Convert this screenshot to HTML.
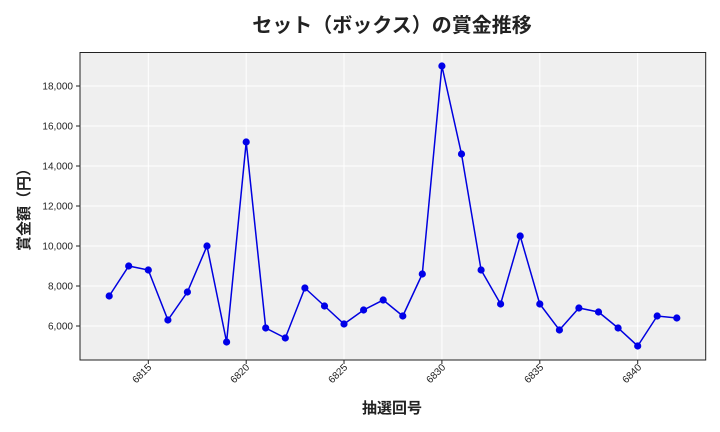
<!DOCTYPE html>
<html><head><meta charset="utf-8"><style>
body{margin:0;background:#fff;}
svg{display:block;font-family:"Liberation Sans","Noto Sans CJK JP",sans-serif;}
</style></head><body>
<svg width="720" height="432" viewBox="0 0 720 432" xmlns="http://www.w3.org/2000/svg">
<rect x="80" y="52.5" width="625.7" height="307.5" fill="#efefef"/>
<g stroke="#fff" stroke-width="1">
<line x1="80" x2="705.7" y1="86" y2="86"/><line x1="80" x2="705.7" y1="126" y2="126"/>
<line x1="80" x2="705.7" y1="166" y2="166"/><line x1="80" x2="705.7" y1="206" y2="206"/>
<line x1="80" x2="705.7" y1="246" y2="246"/><line x1="80" x2="705.7" y1="286" y2="286"/>
<line x1="80" x2="705.7" y1="326" y2="326"/>
<line y1="52.5" y2="360" x1="148.3" x2="148.3"/><line y1="52.5" y2="360" x1="246.2" x2="246.2"/>
<line y1="52.5" y2="360" x1="344" x2="344"/><line y1="52.5" y2="360" x1="441.9" x2="441.9"/>
<line y1="52.5" y2="360" x1="539.8" x2="539.8"/><line y1="52.5" y2="360" x1="637.7" x2="637.7"/>
</g>
<rect x="80" y="52.5" width="625.7" height="307.5" fill="none" stroke="#222" stroke-width="1"/>
<g stroke="#222"><line x1="76" x2="80" y1="86" y2="86"/><line x1="76" x2="80" y1="126" y2="126"/><line x1="76" x2="80" y1="166" y2="166"/><line x1="76" x2="80" y1="206" y2="206"/><line x1="76" x2="80" y1="246" y2="246"/><line x1="76" x2="80" y1="286" y2="286"/><line x1="76" x2="80" y1="326" y2="326"/>
<line y1="360" y2="364" x1="148.3" x2="148.3"/><line y1="360" y2="364" x1="246.2" x2="246.2"/><line y1="360" y2="364" x1="344" x2="344"/><line y1="360" y2="364" x1="441.9" x2="441.9"/><line y1="360" y2="364" x1="539.8" x2="539.8"/><line y1="360" y2="364" x1="637.7" x2="637.7"/></g>
<g font-size="10" fill="#222" text-anchor="end">
<text x="73" y="89.5">18,000</text><text x="73" y="129.5">16,000</text><text x="73" y="169.5">14,000</text><text x="73" y="209.5">12,000</text><text x="73" y="249.5">10,000</text><text x="73" y="289.5">8,000</text><text x="73" y="329.5">6,000</text>
<text transform="translate(152,368) rotate(-45)">6815</text>
<text transform="translate(250,368) rotate(-45)">6820</text>
<text transform="translate(348,368) rotate(-45)">6825</text>
<text transform="translate(446,368) rotate(-45)">6830</text>
<text transform="translate(544,368) rotate(-45)">6835</text>
<text transform="translate(642,368) rotate(-45)">6840</text>
</g>
<polyline fill="none" stroke="#0000e0" stroke-width="1.5" points="109.2,296 128.7,266 148.3,270 167.9,320 187.4,292 207,246 226.6,342 246.2,142 265.7,328 285.3,338 304.9,288 324.5,306 344,324 363.6,310 383.2,300 402.8,316 422.3,274 441.9,66 461.5,154 481.1,270 500.6,304 520.2,236 539.8,304 559.4,330 578.9,308 598.5,312 618.1,328 637.7,346 657.2,316 676.8,318"/>
<g fill="#0000e8">
<circle cx="109.2" cy="296" r="3.6"/><circle cx="128.7" cy="266" r="3.6"/><circle cx="148.3" cy="270" r="3.6"/><circle cx="167.9" cy="320" r="3.6"/><circle cx="187.4" cy="292" r="3.6"/><circle cx="207" cy="246" r="3.6"/><circle cx="226.6" cy="342" r="3.6"/><circle cx="246.2" cy="142" r="3.6"/><circle cx="265.7" cy="328" r="3.6"/><circle cx="285.3" cy="338" r="3.6"/><circle cx="304.9" cy="288" r="3.6"/><circle cx="324.5" cy="306" r="3.6"/><circle cx="344" cy="324" r="3.6"/><circle cx="363.6" cy="310" r="3.6"/><circle cx="383.2" cy="300" r="3.6"/><circle cx="402.8" cy="316" r="3.6"/><circle cx="422.3" cy="274" r="3.6"/><circle cx="441.9" cy="66" r="3.6"/><circle cx="461.5" cy="154" r="3.6"/><circle cx="481.1" cy="270" r="3.6"/><circle cx="500.6" cy="304" r="3.6"/><circle cx="520.2" cy="236" r="3.6"/><circle cx="539.8" cy="304" r="3.6"/><circle cx="559.4" cy="330" r="3.6"/><circle cx="578.9" cy="308" r="3.6"/><circle cx="598.5" cy="312" r="3.6"/><circle cx="618.1" cy="328" r="3.6"/><circle cx="637.7" cy="346" r="3.6"/><circle cx="657.2" cy="316" r="3.6"/><circle cx="676.8" cy="318" r="3.6"/>
</g>
<text x="392" y="32" font-size="20" font-weight="bold" text-anchor="middle" fill="#222">セット（ボックス）の賞金推移</text>
<text x="392" y="413" font-size="15" font-weight="bold" text-anchor="middle" fill="#222">抽選回号</text>
<text transform="translate(29,206) rotate(-90)" font-size="15" font-weight="bold" text-anchor="middle" fill="#222">賞金額（円）</text>
</svg>
</body></html>
